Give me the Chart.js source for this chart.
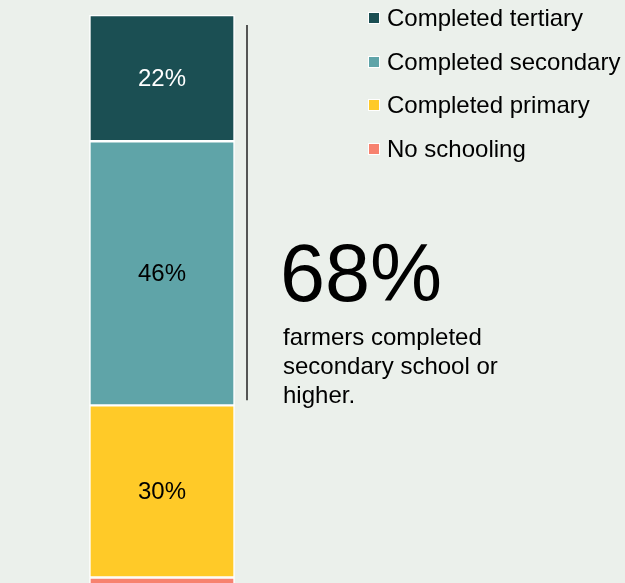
<!DOCTYPE html>
<html lang="en">
<head>
  <meta charset="UTF-8">
  <title>Farmers' education</title>
  <script src="https://cdn.jsdelivr.net/npm/chart.js"></script>
  <style>
    html, body {
      margin: 0;
      padding: 0;
      width: 625px;
      height: 583px;
      overflow: hidden;
      background-color: #ebf0eb;
      font-family: 'Liberation Sans', Arial, sans-serif;
      color: #000;
    }
    .wrap {
      position: absolute;
      left: 0;
      top: 0;
      width: 625px;
      height: 600px;
    }
    .legend {
      position: absolute;
      left: 368px;
      top: 4px;
      margin: 0;
      padding: 0;
      list-style: none;
    }
    .legend li {
      height: 43.5px;
      line-height: 28px;
      font-size: 24px;
      white-space: nowrap;
    }
    .legend .box {
      display: inline-block;
      width: 10px;
      height: 10px;
      border: 1px solid #fff;
      margin-right: 7px;
      vertical-align: 2px;
    }
    .big {
      position: absolute;
      left: 280px;
      top: 228px;
      font-size: 81px;
      line-height: 90px;
    }
    .note {
      position: absolute;
      left: 283px;
      top: 322px;
      width: 260px;
      font-size: 24px;
      line-height: 29px;
    }
  </style>
</head>
<body>
  <div class="wrap">
    <canvas id="eduChart" width="625" height="600"></canvas>
  </div>
  <ul class="legend" id="legend"></ul>
  <div class="big">68%</div>
  <div class="note">farmers completed secondary school or higher.</div>
  <script>
    const categories = ['Farmers'];
    const levels = ['No schooling', 'Completed primary', 'Completed secondary', 'Completed tertiary'];
    const shares = [2, 30, 46, 22];
    const colors = ['#f7826f', '#ffca28', '#5fa4a8', '#1b4f53'];
    const labelColors = ['#000', '#000', '#000', '#fff'];

    // legend, top level first
    const legend = document.getElementById('legend');
    for (let i = levels.length - 1; i >= 0; i--) {
      const li = document.createElement('li');
      li.innerHTML = '<span class="box" style="background:' + colors[i] + '"></span>' + levels[i];
      legend.appendChild(li);
    }

    const segmentLabels = {
      id: 'segmentLabels',
      afterDatasetsDraw(chart) {
        const ctx = chart.ctx;
        ctx.save();
        ctx.font = '24px "Liberation Sans", Arial, sans-serif';
        ctx.textAlign = 'center';
        ctx.textBaseline = 'middle';
        chart.data.datasets.forEach((ds, i) => {
          const bar = chart.getDatasetMeta(i).data[0];
          if (ds.data[0] < 5) return;
          ctx.fillStyle = labelColors[i];
          ctx.fillText(ds.data[0] + '%', bar.x, (bar.y + bar.base) / 2 + 1);
        });
        // bracket line next to secondary + tertiary
        const y = chart.scales.y;
        const x = chart.chartArea.right - 77;
        ctx.strokeStyle = '#222';
        ctx.lineWidth = 1.5;
        ctx.beginPath();
        ctx.moveTo(x, y.getPixelForValue(100) + 10);
        ctx.lineTo(x, y.getPixelForValue(shares[0] + shares[1]) - 5);
        ctx.stroke();
        ctx.restore();
      }
    };

    new Chart(document.getElementById('eduChart'), {
      type: 'bar',
      data: {
        labels: categories,
        datasets: levels.map((lv, i) => ({
          label: lv,
          data: [shares[i]],
          backgroundColor: colors[i],
          borderColor: '#ffffff',
          borderWidth: 1.5,
          borderSkipped: false,
          barThickness: 145
        }))
      },
      options: {
        responsive: false,
        animation: false,
        layout: { padding: { left: 0, right: 301, top: 15, bottom: 11 } },
        plugins: {
          legend: { display: false },
          tooltip: { enabled: false }
        },
        scales: {
          x: { stacked: true, display: false },
          y: { stacked: true, display: false, min: 0, max: 100 }
        }
      },
      plugins: [segmentLabels]
    });
  </script>
</body>
</html>
